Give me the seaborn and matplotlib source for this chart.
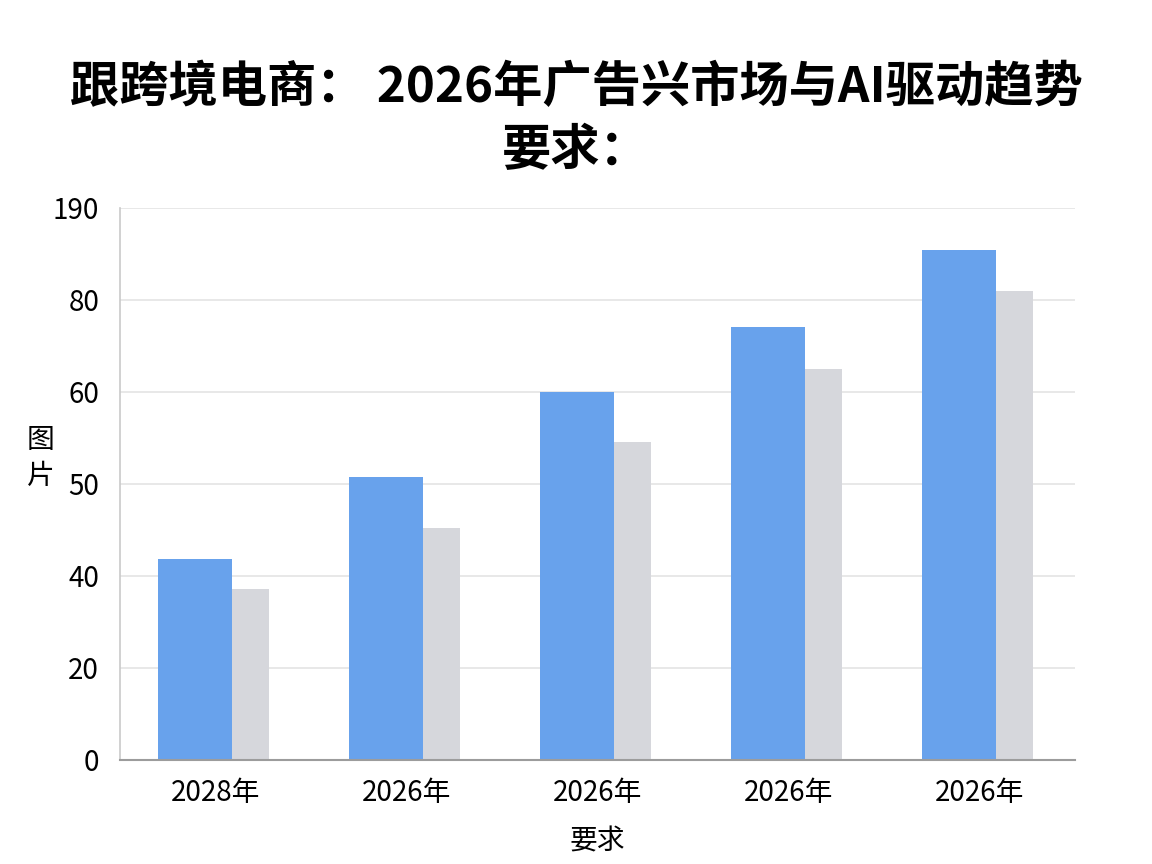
import matplotlib
matplotlib.use("Agg")
import matplotlib.pyplot as plt
import seaborn as sns
import pandas as pd
import numpy as np

# data
years = ['2028年', '2026年', '2026年', '2026年', '2026年']
blue_vals = [43.7, 61.6, 80.1, 94.2, 110.9]
gray_vals = [37.2, 50.5, 69.2, 84.9, 102.0]
ytick_labels = ['0', '20', '40', '50', '60', '80', '190']

title = '跟跨境电商： 2026年广告兴市场与AI驱动趋势\n要求：'
xlabel = '要求'
ylabel = '图\n片'

sns.set_theme(style='white')
plt.rcParams['font.family'] = ['Noto Sans CJK SC', 'DejaVu Sans']

pos = np.arange(len(years))
df_blue = pd.DataFrame({'pos': pos - 0.107, 'value': blue_vals})
df_gray = pd.DataFrame({'pos': pos + 0.183, 'value': gray_vals})

fig = plt.figure(figsize=(11.52, 8.64), dpi=100)
ax = fig.add_axes([0.1042, 0.1204, 0.829, 0.6389])

sns.barplot(data=df_blue, x='pos', y='value', native_scale=True, width=0.387,
            color='#68a2ec', saturation=1, errorbar=None, linewidth=0, ax=ax)
sns.barplot(data=df_gray, x='pos', y='value', native_scale=True, width=0.194,
            color='#d6d7dc', saturation=1, errorbar=None, linewidth=0, ax=ax)

ax.set_xlim(-0.5, len(years) - 0.5)
ax.set_ylim(0, 120)
ax.set_yticks(np.arange(0, 121, 20))
ax.set_yticklabels(ytick_labels)
ax.set_xticks(pos)
ax.set_xticklabels(years)
ax.tick_params(axis='both', length=0, labelsize=20, colors='black')
ax.tick_params(axis='y', pad=15)
ax.tick_params(axis='x', pad=13)

ax.grid(axis='y', color='#e4e4e4', linewidth=1.2)
ax.set_axisbelow(True)
for s in ['top', 'right']:
    ax.spines[s].set_visible(False)
ax.spines['left'].set_color('#c9c9c9')
ax.spines['left'].set_linewidth(1.2)
ax.spines['bottom'].set_color('#9c9c9c')
ax.spines['bottom'].set_linewidth(1.5)

ax.set_xlabel(xlabel, fontsize=20, color='black')
ax.xaxis.set_label_coords(0.5, -0.147)
ax.xaxis.label.set_va('center')
ax.set_ylabel(ylabel, fontsize=20, rotation=0, color='black', linespacing=1.25)
ax.yaxis.set_label_coords(-0.083, 0.547)
ax.yaxis.label.set_va('center')

fig.text(0.5, 0.862, title, ha='center', va='center', fontsize=35.5,
         fontweight='black', color='black', linespacing=1.35)

fig.savefig('out.png', dpi=100)
